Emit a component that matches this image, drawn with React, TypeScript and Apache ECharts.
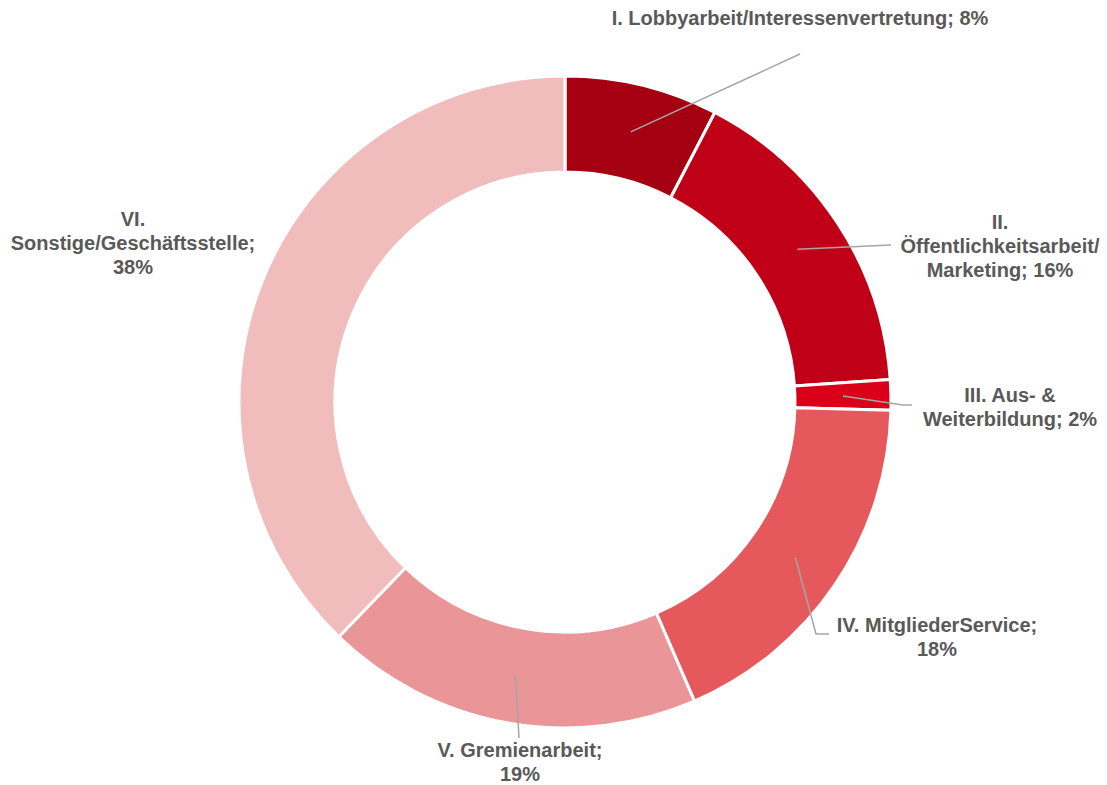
import React, { useEffect, useRef } from "react";
import * as echarts from "echarts";

const CATEGORIES = [
  "I. Lobbyarbeit/Interessenvertretung",
  "II.\nÖffentlichkeitsarbeit/\nMarketing",
  "III. Aus- &\nWeiterbildung",
  "IV. MitgliederService",
  "V. Gremienarbeit",
  "VI.\nSonstige/Geschäftsstelle",
];
const VALUES = [7.6, 16.3, 1.5, 18.1, 18.7, 37.8];
const LABEL_SEP = ["; ", "; ", "; ", ";\n", ";\n", ";\n"];
const COLORS = ["#A50011", "#C00017", "#DA001A", "#E5585C", "#EA9597", "#F0BCBC"];

// layout (pixel positions of labels and leader-line ends)
const CX = 565;
const CY = 402;
const R_IN = 230;
const R_OUT = 326;
const LABEL_ANCHOR = [
  [800, 18],
  [1000, 246],
  [1010, 407],
  [937, 637],
  [520, 762],
  [133, 243],
];
const LINE_ENDS = [
  [[800, 54]],
  [[891, 245]],
  [[903, 405], [912, 405]],
  [[816, 634], [829, 634]],
  [[519, 738]],
  null,
];

export default function App() {
  const ref = useRef<HTMLDivElement>(null);
  useEffect(() => {
    if (!ref.current) return;
    const chart = echarts.init(ref.current, undefined, { renderer: "svg" });
    const total = VALUES.reduce((a, b) => a + b, 0);
    const cum: number[] = [];
    let acc = 0;
    VALUES.forEach((v) => {
      cum.push(acc + v / 2);
      acc += v;
    });
    const rm = (R_IN + R_OUT) / 2;
    const leaderLines: any[] = [];
    LINE_ENDS.forEach((ends, i) => {
      if (!ends) return;
      const a = (cum[i] / total) * Math.PI * 2;
      const start = [CX + rm * Math.sin(a), CY - rm * Math.cos(a)];
      leaderLines.push({
        type: "polyline",
        z: 100,
        silent: true,
        shape: { points: [start, ...ends] },
        style: { stroke: "#A6A6A6", lineWidth: 1.5, fill: "none" },
      });
    });
    chart.setOption({
      animation: false,
      backgroundColor: "#ffffff",
      graphic: { elements: leaderLines },
      series: [
        {
          type: "pie",
          center: [CX, CY],
          radius: [R_IN, R_OUT],
          startAngle: 90,
          clockwise: true,
          avoidLabelOverlap: false,
          itemStyle: { borderColor: "#ffffff", borderWidth: 3 },
          label: {
            show: true,
            position: "outside",
            fontFamily: "Liberation Sans, Arial, sans-serif",
            fontWeight: "bold",
            fontSize: 20,
            lineHeight: 24,
            color: "#595959",
            align: "center",
            formatter: (p: any) =>
              `${CATEGORIES[p.dataIndex]}${LABEL_SEP[p.dataIndex]}${Math.round((p.value / total) * 100)}%`,
          },
          labelLine: { show: false },
          labelLayout: (params: any) => {
            const i = params.dataIndex;
            return {
              x: LABEL_ANCHOR[i][0],
              y: LABEL_ANCHOR[i][1],
              align: "center",
              verticalAlign: "middle",
            };
          },
          data: CATEGORIES.map((name, i) => ({
            name,
            value: VALUES[i],
            itemStyle: { color: COLORS[i] },
          })),
        },
      ],
    });
    return () => chart.dispose();
  }, []);
  return (
    <div
      ref={ref}
      style={{ position: "fixed", left: 0, top: 0, width: 1107, height: 785 }}
    />
  );
}
